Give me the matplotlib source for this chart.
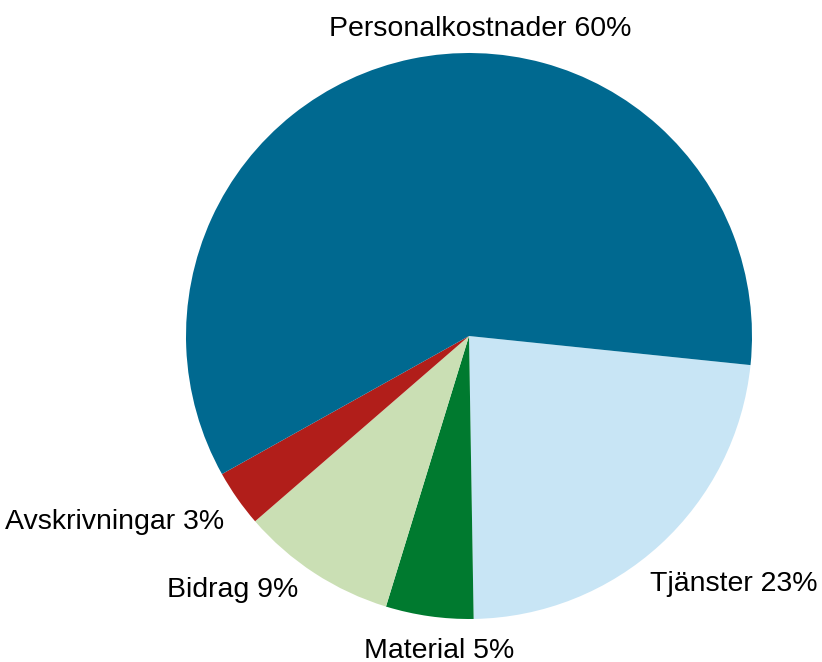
import matplotlib.pyplot as plt

plt.rcParams['font.family'] = ['Liberation Sans', 'DejaVu Sans']

# clockwise order starting at the right-hand edge
categories = ['Tjänster', 'Material', 'Bidrag', 'Avskrivningar', 'Personalkostnader']
values = [23.1, 5.0, 8.9, 3.25, 59.75]
shown = [23, 5, 9, 3, 60]
colors = ['#C8E5F5', '#007A2F', '#CADFB4', '#B11E1A', '#006990']

fig = plt.figure(figsize=(8.22, 6.62), dpi=100)
ax = fig.add_axes([0, 0, 1, 1])

wedges, texts = ax.pie(values, colors=colors, startangle=-5.9, counterclock=False,
                       labels=[f'{c} {p}%' for c, p in zip(categories, shown)],
                       wedgeprops=dict(linewidth=0), textprops=dict(fontsize=20.5))

# label placement (pie radius = 1), y is the text baseline
label_pos = [(0.640, -0.901, 'left'), (-0.104, -1.138, 'center'), (-0.604, -0.922, 'right'),
             (-0.866, -0.682, 'right'), (0.039, 1.060, 'center')]
for t, (x, y, ha) in zip(texts, label_pos):
    t.set_position((x, y))
    t.set_ha(ha)
    t.set_va('baseline')

# center at (469, 336) px, radius 283 px
ax.set_aspect('auto')
ax.set_xlim(-469 / 283, (822 - 469) / 283)
ax.set_ylim(-(662 - 336) / 283, 336 / 283)
ax.axis('off')

fig.savefig('out.png', dpi=100)
